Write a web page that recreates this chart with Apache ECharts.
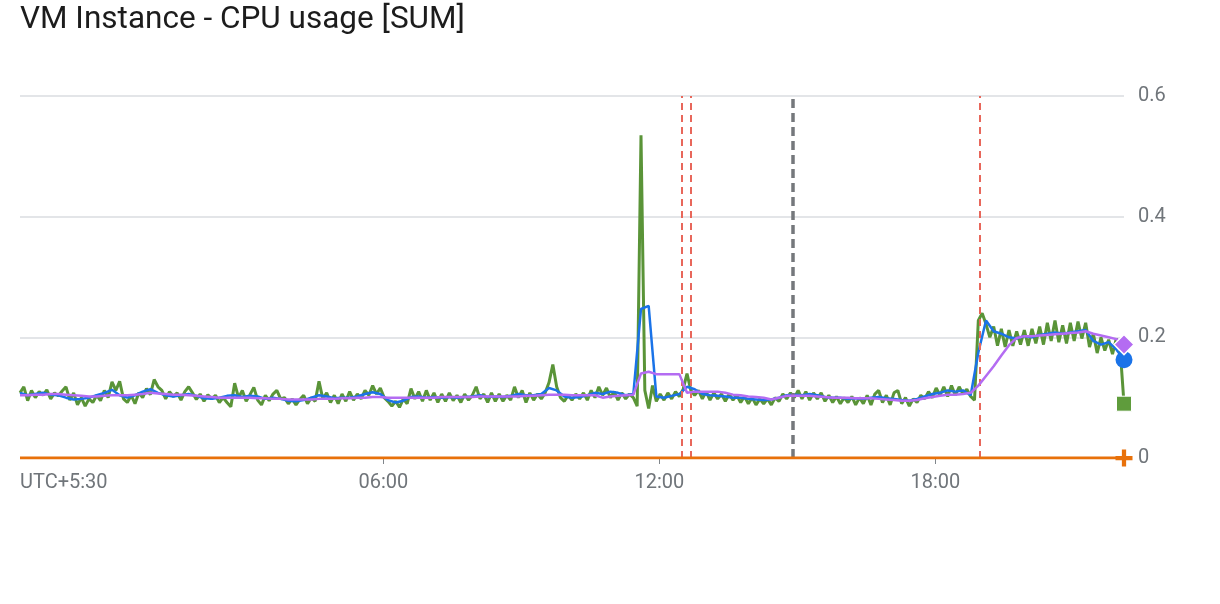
<!DOCTYPE html>
<html>
<head>
<meta charset="utf-8">
<script src="https://cdn.jsdelivr.net/npm/echarts@6/dist/echarts.min.js"></script>
<style>
    html, body { margin: 0; padding: 0; background: #fff; }
    #main_chart { width: 1220px; height: 604px; }
</style>
</head>
<body>
<div id="main_chart"></div>
<script>
// time is in hours of the local day (UTC+5:30), the window starts 22:06 the day before
const startHour = -1.9;
const endHour = 22.1;
const rawStep = 1 / 12;   // 5 min samples
const avgStep = 1 / 6;    // 10 min samples

const tickHours = [6, 12, 18];
const redMarkerHours = [12.49, 12.69, 18.97];
const grayMarkerHours = [14.9];

// raw CPU usage, every 5 minutes
const rawValues = [
    0.108, 0.118, 0.095, 0.112, 0.100, 0.110, 0.104, 0.113, 0.098, 0.108, 0.103, 0.111,
    0.118, 0.096, 0.108, 0.088, 0.100, 0.086, 0.098, 0.092, 0.104, 0.095, 0.112, 0.100,
    0.126, 0.112, 0.127, 0.098, 0.092, 0.104, 0.090, 0.108, 0.100, 0.115, 0.105, 0.130,
    0.118, 0.112, 0.098, 0.110, 0.102, 0.108, 0.096, 0.110, 0.118, 0.108, 0.097, 0.106,
    0.094, 0.105, 0.098, 0.104, 0.092, 0.100, 0.092, 0.085, 0.124, 0.100, 0.112, 0.094,
    0.105, 0.117, 0.096, 0.088, 0.104, 0.095, 0.106, 0.112, 0.098, 0.100, 0.090, 0.098,
    0.088, 0.097, 0.104, 0.090, 0.100, 0.094, 0.127, 0.098, 0.108, 0.092, 0.104, 0.090,
    0.106, 0.094, 0.110, 0.096, 0.106, 0.098, 0.112, 0.104, 0.120, 0.106, 0.116, 0.100,
    0.094, 0.086, 0.094, 0.084, 0.098, 0.090, 0.115, 0.098, 0.110, 0.094, 0.112, 0.096,
    0.108, 0.092, 0.106, 0.094, 0.108, 0.095, 0.104, 0.092, 0.106, 0.096, 0.104, 0.118,
    0.098, 0.106, 0.092, 0.108, 0.094, 0.106, 0.094, 0.104, 0.096, 0.118, 0.100, 0.112,
    0.092, 0.108, 0.096, 0.106, 0.098, 0.108, 0.125, 0.155, 0.118, 0.100, 0.094, 0.104,
    0.096, 0.106, 0.098, 0.108, 0.096, 0.112, 0.100, 0.118, 0.104, 0.116, 0.100, 0.110,
    0.096, 0.108, 0.098, 0.106, 0.100, 0.086, 0.535, 0.112, 0.082, 0.120, 0.094, 0.106,
    0.096, 0.108, 0.098, 0.110, 0.102, 0.114, 0.140, 0.112, 0.104, 0.112, 0.098, 0.110,
    0.096, 0.108, 0.098, 0.106, 0.094, 0.106, 0.096, 0.104, 0.092, 0.102, 0.090, 0.100,
    0.088, 0.098, 0.090, 0.098, 0.088, 0.100, 0.094, 0.106, 0.098, 0.108, 0.100, 0.112,
    0.098, 0.110, 0.096, 0.108, 0.098, 0.108, 0.094, 0.104, 0.092, 0.102, 0.090, 0.100,
    0.092, 0.102, 0.088, 0.100, 0.090, 0.104, 0.088, 0.106, 0.112, 0.092, 0.104, 0.088,
    0.108, 0.112, 0.090, 0.100, 0.086, 0.098, 0.092, 0.104, 0.098, 0.110, 0.100, 0.116,
    0.104, 0.118, 0.102, 0.120, 0.104, 0.118, 0.106, 0.114, 0.102, 0.096, 0.228, 0.240,
    0.222, 0.200, 0.218, 0.186, 0.214, 0.184, 0.212, 0.186, 0.210, 0.188, 0.212, 0.186,
    0.214, 0.190, 0.218, 0.188, 0.224, 0.194, 0.228, 0.192, 0.220, 0.190, 0.224, 0.194,
    0.226, 0.198, 0.224, 0.184, 0.206, 0.174, 0.200, 0.178, 0.196, 0.172, 0.198, 0.180,
    0.090
];

// 10 min mean
const meanValues = [
    0.108, 0.104, 0.106, 0.108, 0.105, 0.104, 0.100, 0.097, 0.098, 0.100, 0.104, 0.108,
    0.113, 0.104, 0.100, 0.104, 0.110, 0.114, 0.108, 0.104, 0.102, 0.104, 0.106, 0.103,
    0.099, 0.098, 0.100, 0.103, 0.104, 0.101, 0.103, 0.102, 0.098, 0.100, 0.098, 0.095,
    0.094, 0.096, 0.100, 0.104, 0.102, 0.099, 0.100, 0.100, 0.102, 0.106, 0.109, 0.106,
    0.096, 0.092, 0.095, 0.101, 0.102, 0.100, 0.101, 0.100, 0.101, 0.100, 0.101, 0.102,
    0.104, 0.101, 0.102, 0.101, 0.103, 0.106, 0.104, 0.104, 0.106, 0.116, 0.112, 0.102,
    0.100, 0.101, 0.104, 0.108, 0.106, 0.110, 0.108, 0.104, 0.106, 0.247, 0.252, 0.102,
    0.100, 0.103, 0.106, 0.118, 0.114, 0.106, 0.104, 0.103, 0.102, 0.100, 0.100, 0.098,
    0.097, 0.096, 0.097, 0.100, 0.104, 0.105, 0.104, 0.106, 0.104, 0.101, 0.100, 0.100,
    0.098, 0.099, 0.098, 0.100, 0.101, 0.099, 0.098, 0.096, 0.095, 0.098, 0.102, 0.106,
    0.108, 0.112, 0.110, 0.112, 0.104, 0.175, 0.228, 0.210, 0.206, 0.200, 0.198, 0.202,
    0.200, 0.204, 0.206, 0.208, 0.206, 0.208, 0.210, 0.212, 0.194, 0.188, 0.192, 0.180,
    0.163
];

// slower rolling mean
const slowValues = [
    0.104, 0.104, 0.105, 0.105, 0.106, 0.106, 0.105, 0.104, 0.103, 0.102, 0.102, 0.103,
    0.104, 0.104, 0.104, 0.105, 0.106, 0.108, 0.107, 0.106, 0.105, 0.105, 0.104, 0.103,
    0.102, 0.101, 0.100, 0.100, 0.100, 0.100, 0.100, 0.099, 0.099, 0.098, 0.098, 0.097,
    0.097, 0.097, 0.097, 0.098, 0.098, 0.098, 0.099, 0.099, 0.100, 0.100, 0.101, 0.101,
    0.100, 0.100, 0.100, 0.100, 0.100, 0.100, 0.100, 0.101, 0.101, 0.101, 0.101, 0.101,
    0.102, 0.102, 0.102, 0.102, 0.102, 0.102, 0.103, 0.103, 0.104, 0.105, 0.105, 0.105,
    0.104, 0.104, 0.104, 0.104, 0.100, 0.102, 0.103, 0.104, 0.105, 0.140, 0.143, 0.139,
    0.139, 0.139, 0.139, 0.108, 0.110, 0.110, 0.110, 0.110, 0.108, 0.105, 0.104, 0.102,
    0.101, 0.100, 0.097, 0.100, 0.103, 0.103, 0.103, 0.103, 0.102, 0.101, 0.100, 0.100,
    0.100, 0.099, 0.099, 0.099, 0.098, 0.097, 0.096, 0.095, 0.095, 0.096, 0.099, 0.101,
    0.103, 0.105, 0.105, 0.106, 0.108, 0.120, 0.136, 0.152, 0.170, 0.187, 0.199, 0.202,
    0.202, 0.203, 0.204, 0.205, 0.206, 0.207, 0.208, 0.210, 0.206, 0.203, 0.200, 0.197,
    0.188
];

const zeroValues = [0, 0];

const PLUS = 'path://M6,0H10V6H16V10H10V16H6V10H0V6H6Z';

function toSeriesData(values, step, endSymbol, endSize) {
    return values.map((v, i) => {
        let item = {value: [startHour + i * step, v]};
        if (i === values.length - 1) {
            item.symbol = endSymbol;
            item.symbolSize = endSize;
        }
        return item;
    });
}

function hourLabel(value) {
    if (Math.abs(value - startHour) < 1e-6) {
        return 'UTC+5:30';
    }
    let h = Math.round(value);
    return (h < 10 ? '0' + h : '' + h) + ':00';
}

let myChart = echarts.init(document.getElementById('main_chart'));

let option = {
    animation: false,
    backgroundColor: '#fff',
    textStyle: {fontFamily: 'Roboto'},
    title: {
        text: 'VM Instance - CPU usage [SUM]',
        left: 20,
        top: 4,
        padding: 0,
        textStyle: {
            fontFamily: 'Roboto',
            fontSize: 31.5,
            fontWeight: 'normal',
            color: '#1c1c1c'
        }
    },
    grid: {
        left: 20,
        right: 96,
        top: 96,
        bottom: 146,
        containLabel: false
    },
    xAxis: {
        type: 'value',
        min: startHour,
        max: endHour,
        axisLine: {show: false},
        splitLine: {show: false},
        axisTick: {
            show: true,
            customValues: tickHours,
            length: 6,
            lineStyle: {color: '#80868b', width: 1}
        },
        axisLabel: {
            customValues: [startHour].concat(tickHours),
            formatter: hourLabel,
            alignMinLabel: 'left',
            margin: 15,
            fontFamily: 'Roboto',
            fontSize: 20,
            color: '#70757a'
        }
    },
    yAxis: {
        type: 'value',
        position: 'right',
        min: 0,
        max: 0.6,
        interval: 0.2,
        axisLine: {show: false},
        axisTick: {show: false},
        splitLine: {lineStyle: {color: '#dadce0', width: 1.5}},
        axisLabel: {
            margin: 14,
            fontFamily: 'Roboto',
            fontSize: 20,
            color: '#70757a'
        }
    },
    series: [
        {
            name: 'raw',
            type: 'line',
            symbol: 'none',
            showSymbol: true,
            z: 3,
            lineStyle: {color: '#5a9438', width: 3},
            itemStyle: {color: '#5f9c3c', borderColor: '#fff', borderWidth: 1},
            data: toSeriesData(rawValues, rawStep, 'rect', 15)
        },
        {
            name: 'mean',
            type: 'line',
            symbol: 'none',
            showSymbol: true,
            z: 4,
            lineStyle: {color: '#1a73e8', width: 2.5},
            itemStyle: {color: '#1a73e8'},
            data: toSeriesData(meanValues, avgStep, 'circle', 17)
        },
        {
            name: 'slow',
            type: 'line',
            symbol: 'none',
            showSymbol: true,
            z: 5,
            lineStyle: {color: '#b46cf2', width: 2.5},
            itemStyle: {color: '#b46cf2', borderColor: '#fff', borderWidth: 1.5},
            data: toSeriesData(slowValues, avgStep, 'diamond', 20)
        },
        {
            name: 'zero',
            type: 'line',
            symbol: 'none',
            showSymbol: true,
            z: 6,
            lineStyle: {color: '#e8710a', width: 3},
            itemStyle: {color: '#e8710a'},
            data: toSeriesData(zeroValues, endHour - startHour, PLUS, 17),
            markLine: {
                silent: true,
                symbol: 'none',
                label: {show: false},
                data: redMarkerHours.map(h => ({
                    xAxis: h,
                    lineStyle: {color: '#e8675b', width: 2, type: [7, 5]}
                })).concat(grayMarkerHours.map(h => ({
                    xAxis: h,
                    lineStyle: {color: '#75787c', width: 3.5, type: [9, 5]}
                })))
            }
        }
    ]
};

myChart.setOption(option);
</script>
</body>
</html>
